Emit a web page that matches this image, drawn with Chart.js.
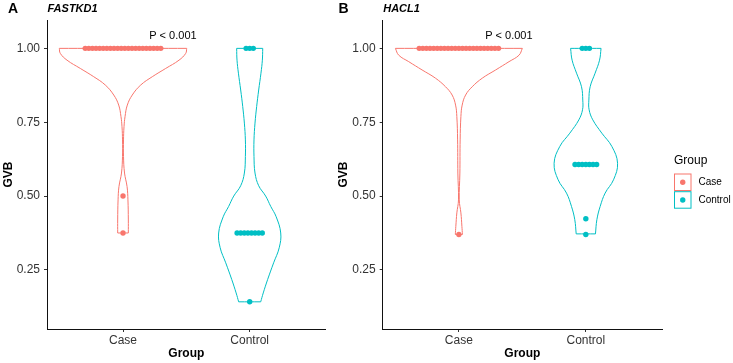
<!DOCTYPE html>
<html lang="en">
<head>
<meta charset="UTF-8">
<title>GVB by Group</title>
<script src="https://cdn.jsdelivr.net/npm/chart.js"></script>
<style>
  body { margin: 0; background: #fff; }
  #wrap { position: relative; width: 733px; height: 363px; }
  #chartA { position: absolute; left: 0; top: 0; }
  #chartB { position: absolute; left: 335px; top: 0; }
</style>
</head>
<body>
<div id="wrap">
  <canvas id="chartA" width="335" height="363"></canvas>
  <canvas id="chartB" width="398" height="363"></canvas>
</div>
<script>
const groups = ['Case', 'Control'];
const yTicks = [0.25, 0.50, 0.75, 1.00];
const pLabel = 'P < 0.001';

// FASTKD1 dots: GVB value and number of dots at it
const fastCaseVals = [1.00, 0.50, 0.375];
const fastCaseCounts = [22, 1, 1];
const fastCtrlVals = [1.00, 0.375, 0.142];
const fastCtrlCounts = [3, 8, 1];

// HACL1 dots
const haclCaseVals = [1.00, 0.37];
const haclCaseCounts = [23, 1];
const haclCtrlVals = [1.00, 0.607, 0.423, 0.37];
const haclCtrlCounts = [3, 7, 1, 1];

// violin outlines: GVB level and half width (group units)
const fastCaseVY = [1.000, 0.983, 0.960, 0.932, 0.904, 0.876, 0.842, 0.808, 0.769, 0.735, 0.690, 0.634, 0.578, 0.532, 0.487, 0.419, 0.375];
const fastCaseVW = [0.503, 0.495, 0.442, 0.337, 0.231, 0.140, 0.073, 0.034, 0.016, 0.008, 0.004, 0.004, 0.012, 0.032, 0.039, 0.042, 0.042];
const fastCtrlVY = [1.000, 0.960, 0.916, 0.859, 0.803, 0.747, 0.690, 0.634, 0.578, 0.535, 0.500, 0.465, 0.430, 0.375, 0.325, 0.274, 0.218, 0.172, 0.142];
const fastCtrlVW = [0.103, 0.100, 0.089, 0.071, 0.055, 0.042, 0.034, 0.034, 0.042, 0.071, 0.126, 0.166, 0.209, 0.245, 0.233, 0.189, 0.142, 0.107, 0.087];
const haclCaseVY = [1.000, 0.977, 0.955, 0.927, 0.899, 0.870, 0.842, 0.808, 0.769, 0.690, 0.578, 0.487, 0.443, 0.397, 0.370];
const haclCaseVW = [0.500, 0.474, 0.395, 0.290, 0.184, 0.105, 0.053, 0.026, 0.016, 0.010, 0.008, 0.003, 0.016, 0.024, 0.028];
const haclCtrlVY = [1.000, 0.960, 0.916, 0.870, 0.825, 0.792, 0.758, 0.713, 0.668, 0.611, 0.555, 0.510, 0.465, 0.420, 0.372];
const haclCtrlVW = [0.120, 0.108, 0.073, 0.034, 0.024, 0.026, 0.055, 0.126, 0.205, 0.250, 0.218, 0.152, 0.113, 0.087, 0.076];

const colors = ['#F8766D', '#00BFC4'];
const dotStep = 0.0284;   // horizontal spacing of stacked dots
const pX = 1.394, pY = 1.042;

Chart.defaults.font.family = "'Liberation Sans', Arial, Helvetica, sans-serif";

function dotPoints(center, vals, counts) {
    const pts = [];
    vals.forEach((v, k) => {
        const n = counts[k];
        for (let i = 0; i < n; i++) {
            pts.push({ x: center + (i - (n - 1) / 2) * dotStep, y: v });
        }
    });
    return pts;
}

// closed outline; corners are doubled so the spline keeps them sharp
function violinPoints(center, ys, ws) {
    const n = ys.length;
    const R = i => ({ x: center + ws[i], y: ys[i] });
    const L = i => ({ x: center - ws[i], y: ys[i] });
    const pts = [L(0), R(0), R(0)];
    for (let i = 1; i < n - 1; i++) pts.push(R(i));
    pts.push(R(n - 1), R(n - 1), L(n - 1), L(n - 1));
    for (let i = n - 2; i >= 1; i--) pts.push(L(i));
    pts.push(L(0));
    return pts;
}

function buildDatasets(caseVals, caseCounts, ctrlVals, ctrlCounts, caseVY, caseVW, ctrlVY, ctrlVW) {
    const dots = (pts, c) => ({
        type: 'scatter', data: pts, order: 0,
        pointRadius: 2.7, pointBackgroundColor: c, pointBorderWidth: 0
    });
    const violin = (pts, c) => ({
        type: 'line', data: pts, order: 1, showLine: true, fill: false,
        borderColor: c, borderWidth: 1, tension: 0.4, pointRadius: 0
    });
    return [
        dots(dotPoints(1, caseVals, caseCounts), colors[0]),
        dots(dotPoints(2, ctrlVals, ctrlCounts), colors[1]),
        violin(violinPoints(1, caseVY, caseVW), colors[0]),
        violin(violinPoints(2, ctrlVY, ctrlVW), colors[1])
    ];
}

const panelText = {
    id: 'panelText',
    afterDraw(chart, args, opts) {
        const ctx = chart.ctx;
        const xs = chart.scales.x, ys = chart.scales.y;
        ctx.save();
        ctx.fillStyle = '#000';
        ctx.textBaseline = 'middle';
        ctx.textAlign = 'left';
        ctx.font = "bold 14px 'Liberation Sans', Arial, sans-serif";
        ctx.fillText(opts.tag, opts.tagX, 9.5);
        ctx.font = "italic bold 11px 'Liberation Sans', Arial, sans-serif";
        ctx.fillText(opts.gene, chart.chartArea.left + 0.5, 8.5);
        ctx.font = "11px 'Liberation Sans', Arial, sans-serif";
        ctx.textAlign = 'center';
        ctx.fillText(pLabel, xs.getPixelForValue(pX), ys.getPixelForValue(pY));

        if (opts.legend) {
            const lx = 339;
            ctx.textAlign = 'left';
            ctx.font = "12px 'Liberation Sans', Arial, sans-serif";
            ctx.fillText('Group', lx, 161);
            groups.forEach((g, i) => {
                const top = 173.5 + i * 17.7;
                ctx.strokeStyle = colors[i];
                ctx.lineWidth = 1;
                ctx.strokeRect(lx + 0.5, top + 0.5, 16.5, 16.5);
                ctx.beginPath();
                ctx.arc(lx + 8.75, top + 8.75, 2.7, 0, Math.PI * 2);
                ctx.fillStyle = colors[i];
                ctx.fill();
                ctx.fillStyle = '#000';
                ctx.font = "10px 'Liberation Sans', Arial, sans-serif";
                ctx.fillText(g, 363.5, top + 9);
            });
        }
        ctx.restore();
    }
};

function makeOptions(yWidth, padRight, text) {
    return {
        responsive: false,
        animation: false,
        events: [],
        layout: { padding: { top: 20, right: padRight, left: 0, bottom: 0 } },
        plugins: {
            legend: { display: false },
            tooltip: { enabled: false },
            panelText: text
        },
        scales: {
            x: {
                type: 'linear', min: 0.4, max: 2.6,
                afterBuildTicks: s => { s.ticks = groups.map((g, i) => ({ value: i + 1 })); },
                afterFit: s => { s.height = 34; },
                ticks: {
                    callback: v => groups[Math.round(v) - 1],
                    color: '#333', font: { size: 12 }, padding: 1,
                    autoSkip: false, maxRotation: 0
                },
                grid: { display: true, drawOnChartArea: false, drawTicks: true, tickLength: 3, color: '#333' },
                border: { display: true, color: '#111', width: 1 },
                title: { display: true, text: 'Group', color: '#000', font: { size: 12, weight: 'bold' }, padding: { top: 0, bottom: 2 } }
            },
            y: {
                min: 0.05, max: 1.096,
                afterBuildTicks: s => { s.ticks = yTicks.map(v => ({ value: v })); },
                afterFit: s => { s.width = yWidth; },
                ticks: {
                    callback: v => v.toFixed(2),
                    color: '#333', font: { size: 12 }, padding: 4
                },
                grid: { display: true, drawOnChartArea: false, drawTicks: true, tickLength: 3, color: '#333' },
                border: { display: true, color: '#111', width: 1 },
                title: { display: true, text: 'GVB', color: '#000', font: { size: 12, weight: 'bold' }, padding: { top: 1, bottom: 0 } }
            }
        }
    };
}

new Chart(document.getElementById('chartA'), {
    type: 'scatter',
    data: { datasets: buildDatasets(fastCaseVals, fastCaseCounts, fastCtrlVals, fastCtrlCounts, fastCaseVY, fastCaseVW, fastCtrlVY, fastCtrlVW) },
    options: makeOptions(47, 9.3, { tag: 'A', tagX: 8, gene: 'FASTKD1', legend: false }),
    plugins: [panelText]
});

new Chart(document.getElementById('chartB'), {
    type: 'scatter',
    data: { datasets: buildDatasets(haclCaseVals, haclCaseCounts, haclCtrlVals, haclCtrlCounts, haclCaseVY, haclCaseVW, haclCtrlVY, haclCtrlVW) },
    options: makeOptions(47.7, 71, { tag: 'B', tagX: 3.5, gene: 'HACL1', legend: true }),
    plugins: [panelText]
});
</script>
</body>
</html>
